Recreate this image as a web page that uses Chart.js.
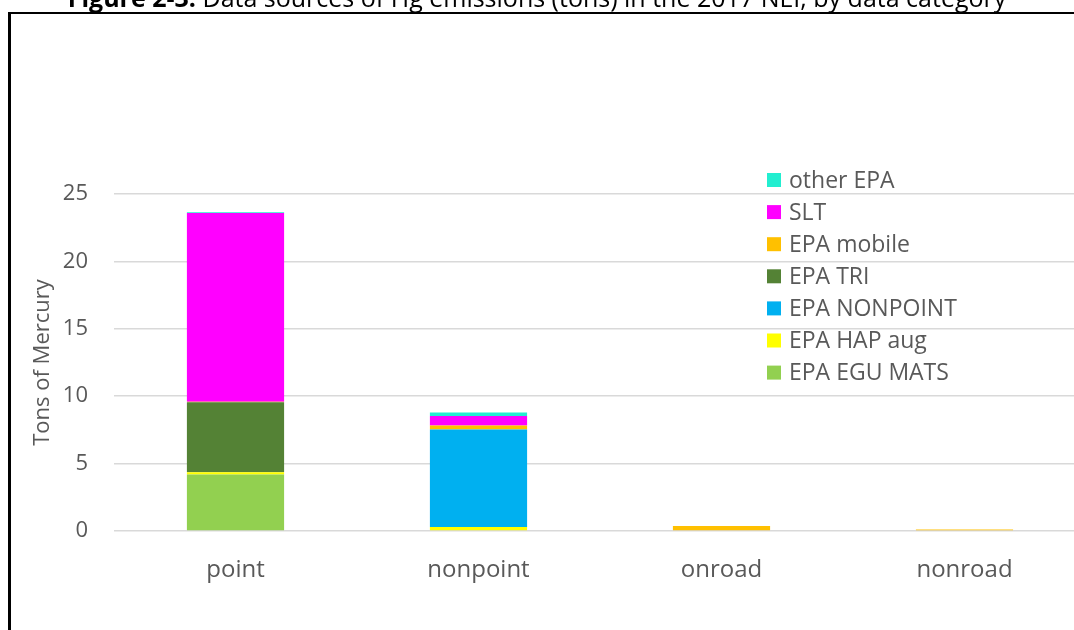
<!DOCTYPE html>
<html>
<head>
<meta charset="utf-8">
<script src="https://cdn.jsdelivr.net/npm/chart.js@4/dist/chart.umd.min.js"></script>
<style>
  html, body { margin: 0; padding: 0; width: 1074px; height: 630px; overflow: hidden; background: #fff; }
  #wrap { position: absolute; left: 0; top: 0; width: 1074px; height: 630px; overflow: hidden; }
  #c { position: absolute; left: 0; top: 0; }
  #frameL { position: absolute; left: 8px; top: 12px; width: 3px; height: 618px; background: #000; }
  #frameT { position: absolute; left: 8px; top: 12px; width: 1066px; height: 2px; background: #000; }
  #titleBox { position: absolute; left: 0; top: 0; width: 1074px; height: 12px; overflow: hidden; }
  #title { position: absolute; left: 0; width: 1074px; top: -20px; text-align: center; font-family: "Open Sans", sans-serif; font-size: 25px; color: #000; white-space: nowrap; line-height: 34px; }
</style>
</head>
<body>
<div id="wrap"><canvas id="c" width="1100" height="630"></canvas></div>
<div id="titleBox"><div id="title"><b>Figure 2-3.</b> Data sources of Hg emissions (tons) in the 2017 NEI, by data category</div></div>
<div id="frameL"></div>
<div id="frameT"></div>
<script>
const categories = ["point", "nonpoint", "onroad", "nonroad"];
const yTicks = [0, 5, 10, 15, 20, 25];

const seriesNames = ["EPA EGU MATS", "EPA HAP aug", "EPA NONPOINT", "EPA TRI", "EPA mobile", "SLT", "other EPA"];
const egMats   = [4.2, 0, 0, 0];
const hapAug   = [0.15, 0.3, 0, 0];
const nonpoint = [0, 7.23, 0, 0];
const tri      = [5.2, 0, 0, 0];
const mobile   = [0.04, 0.3, 0.37, 0.12];
const slt      = [14.0, 0.7, 0, 0];
const otherEpa = [0.05, 0.27, 0, 0];
const seriesValues = [egMats, hapAug, nonpoint, tri, mobile, slt, otherEpa];
const seriesColors = ["#92D050", "#FFFF00", "#00B0F0", "#548235", "#FFC000", "#FF00FF", "#22EED0"];

const FONT = '"Open Sans", sans-serif';
const TXT = '#595959';

const legendPlugin = {
  id: 'customLegend',
  afterDraw(chart) {
    const ctx = chart.ctx;
    const ds = chart.data.datasets.slice().reverse();
    ctx.save();
    ctx.font = '23px ' + FONT;
    ctx.textBaseline = 'middle';
    ctx.textAlign = 'left';
    ds.forEach((d, i) => {
      const y = 180 + i * 32.1;
      ctx.fillStyle = d.backgroundColor;
      ctx.fillRect(767, y - 7, 14, 14);
      ctx.fillStyle = TXT;
      ctx.fillText(d.label, 789, y + 1);
    });
    ctx.restore();
  }
};

new Chart(document.getElementById('c'), {
  type: 'bar',
  data: {
    labels: categories,
    datasets: seriesNames.map((n, i) => ({
      label: n,
      data: seriesValues[i],
      backgroundColor: seriesColors[i],
      borderWidth: 0,
      barPercentage: 0.4,
      categoryPercentage: 1.0
    }))
  },
  options: {
    responsive: false,
    animation: false,
    devicePixelRatio: 1,
    layout: { padding: { top: 194, right: 14, left: 0, bottom: 0 } },
    plugins: { legend: { display: false }, tooltip: { enabled: false } },
    scales: {
      x: {
        stacked: true,
        grid: { display: false, drawTicks: false },
        border: { display: false },
        ticks: { color: TXT, font: { family: FONT, size: 24 }, padding: 25 },
        afterFit(s) { s.height = 99; }
      },
      y: {
        stacked: true,
        min: 0, max: 25,
        afterBuildTicks(s) { s.ticks = yTicks.map(v => ({ value: v })); },
        grid: { color: '#d9d9d9', lineWidth: 1.5, drawTicks: false },
        border: { display: false },
        ticks: { color: TXT, font: { family: FONT, size: 22 }, padding: 26 },
        title: { display: true, text: 'Tons of Mercury', color: TXT, font: { family: FONT, size: 22 }, padding: { top: 30, bottom: 0 } },
        afterFit(s) { s.width = 114; }
      }
    }
  },
  plugins: [legendPlugin]
});
</script>
</body>
</html>
